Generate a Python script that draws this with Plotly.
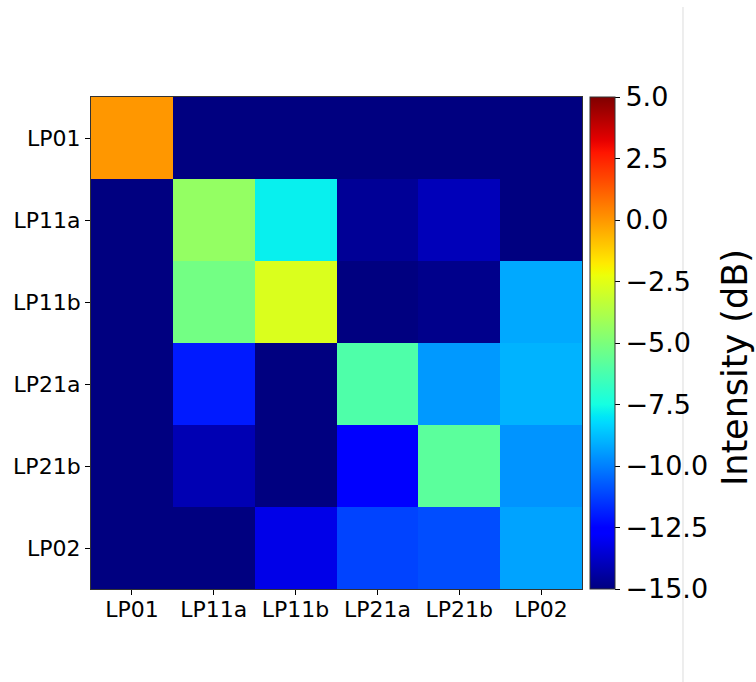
import numpy as np
import plotly.graph_objects as go

# Mode labels for the coupling matrix (rows: input mode, columns: output mode)
modes = ["LP01", "LP11a", "LP11b", "LP21a", "LP21b", "LP02"]

# Intensity in dB, one list per row
row_lp01 = [0.0, -15.0, -15.0, -15.0, -15.0, -15.0]
row_lp11a = [-15.0, -4.4, -7.8, -14.6, -14.0, -15.0]
row_lp11b = [-15.0, -5.2, -2.7, -15.0, -14.8, -9.2]
row_lp21a = [-15.0, -12.0, -15.0, -6.1, -9.5, -9.0]
row_lp21b = [-15.0, -14.1, -15.0, -12.6, -5.8, -9.6]
row_lp02 = [-15.0, -15.0, -13.2, -11.2, -11.0, -9.3]

cbar_vals = [5.0, 2.5, 0.0, -2.5, -5.0, -7.5, -10.0, -12.5, -15.0]
cbar_text = ["5.0", "2.5", "0.0", "\u22122.5", "\u22125.0", "\u22127.5",
             "\u221210.0", "\u221212.5", "\u221215.0"]

z = [row_lp01, row_lp11a, row_lp11b, row_lp21a, row_lp21b, row_lp02]


def jet_scale(n=81):
    """Piecewise-linear 'jet' colormap as a Plotly colorscale."""
    red = ([0, 0.35, 0.66, 0.89, 1], [0, 0, 1, 1, 0.5])
    green = ([0, 0.125, 0.375, 0.64, 0.91, 1], [0, 0, 1, 1, 0, 0])
    blue = ([0, 0.11, 0.34, 0.65, 1], [0.5, 1, 1, 0, 0])
    out = []
    for t in np.linspace(0, 1, n):
        r = np.interp(t, *red)
        g = np.interp(t, *green)
        b = np.interp(t, *blue)
        out.append([float(t), f"rgb({round(r*255)},{round(g*255)},{round(b*255)})"])
    return out


fig = go.Figure(
    go.Heatmap(
        z=z,
        x=modes,
        y=modes,
        zmin=-15,
        zmax=5,
        colorscale=jet_scale(),
        colorbar=dict(
            x=1.0163,
            xanchor="left",
            xpad=0,
            y=0.5,
            yanchor="middle",
            ypad=0,
            len=1,
            lenmode="fraction",
            thickness=25,
            outlinewidth=1,
            outlinecolor="#333",
            ticks="outside",
            ticklen=5,
            tickcolor="black",
            tickvals=cbar_vals,
            ticktext=cbar_text,
            tickfont=dict(family="DejaVu Sans", size=27, color="black"),
        ),
    )
)

axis_common = dict(
    showline=True,
    linecolor="#333",
    linewidth=1,
    mirror=True,
    ticks="outside",
    ticklen=5,
    tickcolor="black",
    showgrid=False,
    zeroline=False,
    tickfont=dict(family="DejaVu Sans", size=22, color="black"),
)

fig.update_xaxes(ticklabelstandoff=-4, **axis_common)
fig.update_yaxes(autorange="reversed", **axis_common)

# Colour bar label
fig.add_annotation(
    text="Intensity (dB)",
    xref="paper", yref="paper",
    x=1.3116, y=0.451,
    xanchor="center", yanchor="middle",
    textangle=-90,
    showarrow=False,
    font=dict(family="DejaVu Sans", size=35, color="black"),
)

# Thin light divider along the right side of the page
fig.add_shape(type="line", xref="paper", yref="paper",
              x0=1.2057, x1=1.2057, y0=1.183, y1=-0.19,
              line=dict(color="#dddddd", width=1))

fig.update_layout(
    width=756,
    height=682,
    margin=dict(l=91, r=174, t=97, b=93),
    paper_bgcolor="white",
    plot_bgcolor="white",
    font=dict(family="DejaVu Sans"),
)

fig.write_html("out.html")
